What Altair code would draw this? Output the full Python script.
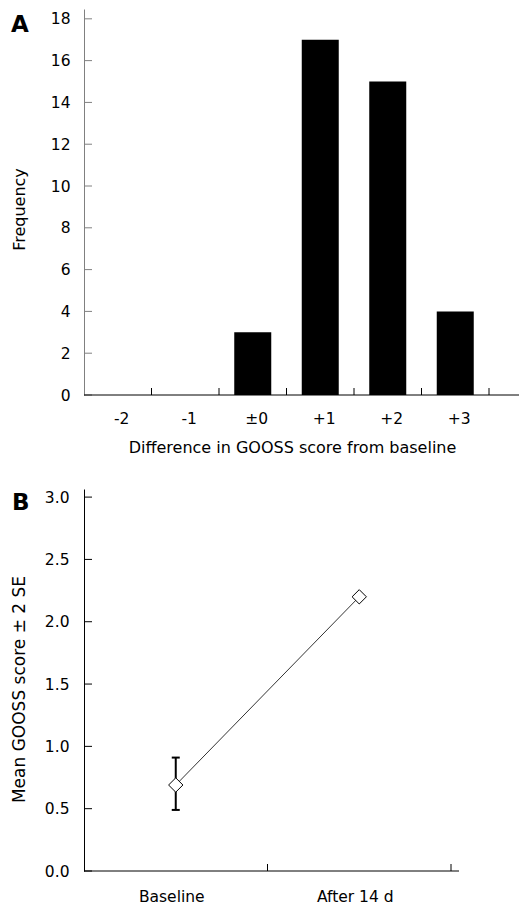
import altair as alt
import pandas as pd

# ---- data ----
diff_categories = ["-2", "-1", "±0", "+1", "+2", "+3"]
frequency = [0, 0, 3, 17, 15, 4]
freq_ticks = [0, 2, 4, 6, 8, 10, 12, 14, 16, 18]

time_points = ["Baseline", "After 14 d"]
mean_score = [0.69, 2.20]
err_points = ["Baseline"]
err_low = [0.49]
err_high = [0.91]
score_ticks = [0.0, 0.5, 1.0, 1.5, 2.0, 2.5, 3.0]

FONT = "DejaVu Sans"
WA, HA = 405, 386
WB, HB = 367, 382

df_a = pd.DataFrame({"diff": diff_categories, "freq": frequency})
df_a_ticks = pd.DataFrame({"freq": freq_ticks})
df_b = pd.DataFrame({"time": time_points, "score": mean_score})
df_b_ticks = pd.DataFrame({"score": score_ticks})
df_err = pd.DataFrame({"time": err_points, "lo": err_low, "hi": err_high})
one = pd.DataFrame({"t": ["A"]})
one_b = pd.DataFrame({"t": ["B"]})

TITLE_A_X = "Difference in GOOSS score from baseline"
TITLE_A_Y = "Frequency"
TITLE_B_Y = "Mean GOOSS score ± 2 SE"


def xa(band=None):
    kw = {}
    if band is not None:
        kw["bandPosition"] = band
    return alt.X(
        "diff:N", sort=diff_categories,
        scale=alt.Scale(domain=diff_categories, paddingInner=0, paddingOuter=0),
        axis=alt.Axis(title=TITLE_A_X, domain=False, ticks=False, tickSize=0,
                      labelPadding=16, labelOffset=4, labelAngle=0,
                      titleX=208, titleY=44, titleBaseline="top", titleAlign="center"),
        **kw)


def ya(field="freq"):
    return alt.Y(
        f"{field}:Q",
        scale=alt.Scale(domain=[0, 18.47], nice=False),
        axis=alt.Axis(title=TITLE_A_Y, values=freq_ticks, format="d", ticks=False, tickSize=0,
                      labelPadding=14, domainColor="#808080", grid=False,
                      titleX=-57, titleY=200, titleAngle=270, titleAlign="center",
                      titleBaseline="bottom"))


bars = alt.Chart(df_a).mark_bar(size=37, color="black").encode(x=xa(), y=ya())
xticks_a = alt.Chart(df_a).mark_rule(color="black", strokeWidth=1).encode(
    x=xa(1), y=alt.value(HA - 7), y2=alt.value(HA))
yticks_a = alt.Chart(df_a_ticks).mark_rule(color="#808080", strokeWidth=1).encode(
    y=ya(), x=alt.value(0), x2=alt.value(8))
xdomain_a = alt.Chart(one).mark_rule(color="black", strokeWidth=1).encode(
    x=alt.value(0), x2=alt.value(435), y=alt.value(HA))
label_a = alt.Chart(one).mark_text(align="left", baseline="top", fontSize=23,
                                   fontWeight="bold", font=FONT, color="black").encode(
    x=alt.value(-73), y=alt.value(5), text="t:N")

panel_a = alt.layer(bars, xticks_a, yticks_a, xdomain_a, label_a).properties(width=WA, height=HA)


def xb(band=None):
    kw = {}
    if band is not None:
        kw["bandPosition"] = band
    return alt.X(
        "time:N", sort=time_points,
        scale=alt.Scale(domain=time_points, paddingInner=0, paddingOuter=0),
        axis=alt.Axis(title=None, domain=False, ticks=False, tickSize=0,
                      labelPadding=18.5, labelOffset=-4, labelAngle=0),
        **kw)


def yb(field="score"):
    return alt.Y(
        f"{field}:Q",
        scale=alt.Scale(domain=[0, 3.065], nice=False),
        axis=alt.Axis(title=TITLE_B_Y, values=score_ticks, format=".1f", ticks=False, tickSize=0,
                      labelPadding=15, domainColor="black", grid=False,
                      titleFontSize=17,
                      titleX=-56, titleY=200, titleAngle=270, titleAlign="center",
                      titleBaseline="bottom"))


err_rule = alt.Chart(df_err).mark_rule(color="black", strokeWidth=2).encode(
    x=xb(), y=yb("lo"), y2="hi:Q")
cap_lo = alt.Chart(df_err).mark_tick(color="black", thickness=2, size=8, opacity=1).encode(
    x=xb(), y=yb("lo"))
cap_hi = alt.Chart(df_err).mark_tick(color="black", thickness=2, size=8, opacity=1).encode(
    x=xb(), y=yb("hi"))
line_b = alt.Chart(df_b).mark_line(color="#333333", strokeWidth=1).encode(x=xb(), y=yb())
pts_b = alt.Chart(df_b).mark_point(shape="diamond", size=205, fill="white", fillOpacity=1,
                                   stroke="black", strokeWidth=1, opacity=1).encode(
    x=xb(), y=yb())
xticks_b = alt.Chart(df_b).mark_rule(color="black", strokeWidth=1).encode(
    x=xb(1), y=alt.value(HB - 7), y2=alt.value(HB))
yticks_b = alt.Chart(df_b_ticks).mark_rule(color="black", strokeWidth=1).encode(
    y=yb(), x=alt.value(0), x2=alt.value(8))
xdomain_b = alt.Chart(one_b).mark_rule(color="black", strokeWidth=1).encode(
    x=alt.value(0), x2=alt.value(375), y=alt.value(HB))
label_b = alt.Chart(one_b).mark_text(align="left", baseline="top", fontSize=23,
                                     fontWeight="bold", font=FONT, color="black").encode(
    x=alt.value(-72), y=alt.value(3), text="t:N")

panel_b = alt.layer(err_rule, cap_lo, cap_hi, line_b, pts_b, xticks_b, yticks_b,
                    xdomain_b, label_b).properties(width=WB, height=HB)

chart = alt.vconcat(panel_a, panel_b, spacing=34).properties(
    padding={"left": 2, "top": 1, "right": 0, "bottom": 0}
).configure_view(stroke=None).configure_axis(
    labelFont=FONT, titleFont=FONT, labelFontSize=15.5, titleFontSize=16,
    labelColor="black", titleColor="black", titleFontWeight="normal", grid=False
)

chart.save("out.html", embed_options={"renderer": "svg", "actions": False})
